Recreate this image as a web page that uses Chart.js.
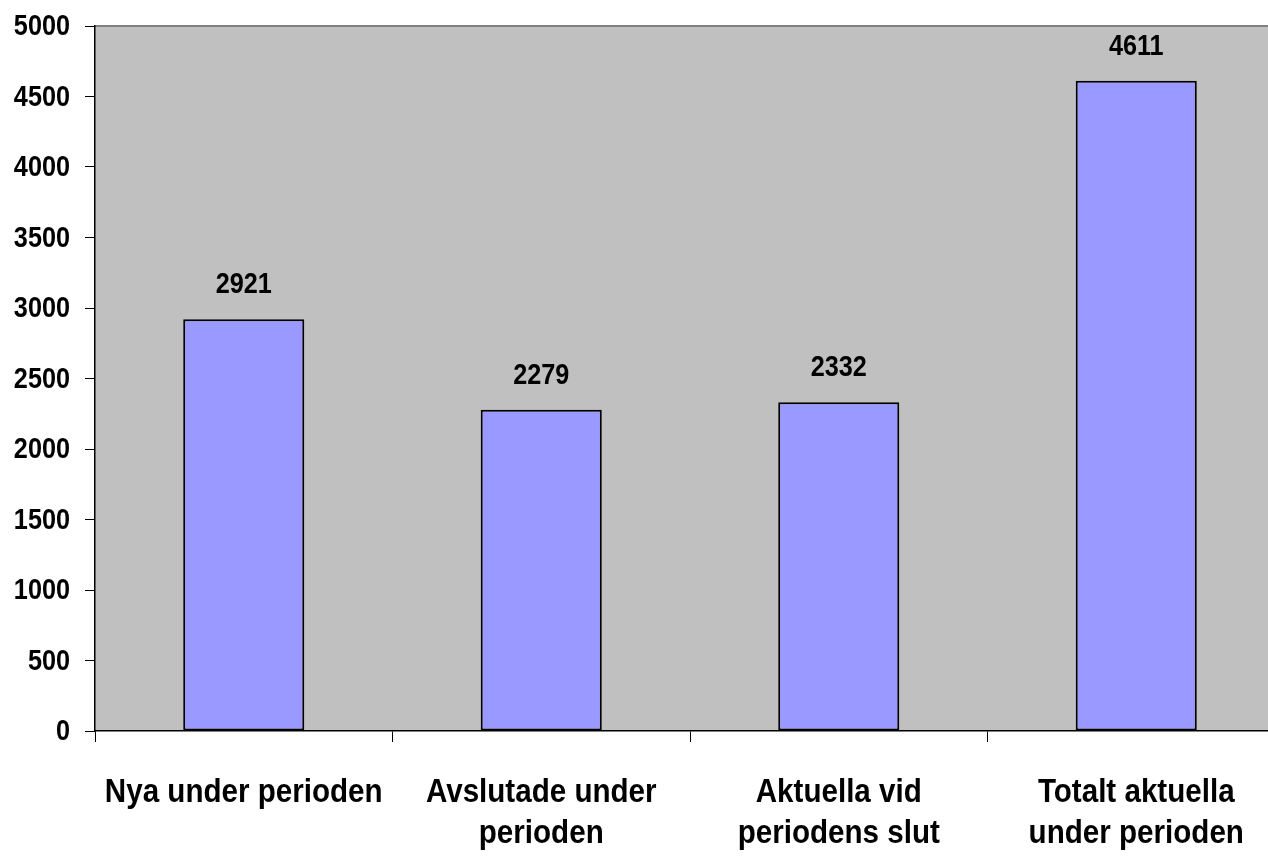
<!DOCTYPE html>
<html>
<head>
<meta charset="utf-8">
<script src="https://cdn.jsdelivr.net/npm/chart.js@4"></script>
<style>
  html, body { margin: 0; padding: 0; background: #fff; overflow: hidden; }
  #wrap { width: 1285px; height: 859px; position: relative; }
</style>
</head>
<body>
<div id="wrap"><canvas id="stapel"></canvas></div>
<script>
// data
const kategorier = [
  ['Nya under perioden'],
  ['Avslutade under', 'perioden'],
  ['Aktuella vid', 'periodens slut'],
  ['Totalt aktuella', 'under perioden']
];
const antal = [2921, 2279, 2332, 4611];
const yTicks = [0, 500, 1000, 1500, 2000, 2500, 3000, 3500, 4000, 4500, 5000];

const typsnitt = "'Liberation Sans Narrow', 'Arial Narrow', 'Liberation Sans', Arial, sans-serif";
const smal = 0.87; // squeeze text sideways, original uses a narrow face

// draw text narrowed around its anchor point
function smalText(ctx, txt, x, y) {
  ctx.save();
  ctx.translate(x, y);
  ctx.scale(smal, 1);
  ctx.fillText(txt, 0, 0);
  ctx.restore();
}

// grey plot area with a thin grey top line
const bakgrund = {
  id: 'bakgrund',
  beforeDraw(chart) {
    const { ctx, chartArea: a } = chart;
    ctx.save();
    ctx.fillStyle = '#C0C0C0';
    ctx.fillRect(a.left, a.top, a.right - a.left, a.bottom - a.top);
    ctx.strokeStyle = '#808080';
    ctx.lineWidth = 2;
    ctx.beginPath();
    ctx.moveTo(a.left, a.top);
    ctx.lineTo(a.right, a.top);
    ctx.stroke();
    ctx.restore();
  }
};

// axis labels and values above the bars
const texter = {
  id: 'texter',
  afterDraw(chart) {
    const ctx = chart.ctx;
    const xs = chart.scales.x;
    const ys = chart.scales.y;
    ctx.save();
    ctx.fillStyle = '#000';

    // y tick labels
    ctx.font = 'bold 29px ' + typsnitt;
    ctx.textAlign = 'right';
    ctx.textBaseline = 'middle';
    yTicks.forEach(function (v) {
      smalText(ctx, String(v), ys.left + ys.width - 25, ys.getPixelForValue(v) + 1);
    });

    // values
    ctx.textAlign = 'center';
    ctx.textBaseline = 'alphabetic';
    chart.getDatasetMeta(0).data.forEach(function (bar, i) {
      smalText(ctx, String(antal[i]), bar.x, bar.y - 26);
    });

    // category labels
    ctx.font = 'bold 34px ' + typsnitt;
    kategorier.forEach(function (rader, i) {
      const x = xs.getPixelForValue(i);
      rader.forEach(function (rad, j) {
        smalText(ctx, rad, x, xs.top + 71 + j * 41);
      });
    });
    ctx.restore();
  }
};

const config = {
  type: 'bar',
  data: {
    labels: kategorier,
    datasets: [{
      data: antal,
      backgroundColor: '#9999FF',
      borderColor: '#000000',
      borderWidth: 2,
      borderSkipped: false,
      categoryPercentage: 1,
      barPercentage: 0.407
    }]
  },
  options: {
    responsive: true,
    maintainAspectRatio: false,
    animation: false,
    layout: { padding: { top: 26, left: 0, right: 0, bottom: 0 } },
    plugins: {
      legend: { display: false },
      tooltip: { enabled: false }
    },
    scales: {
      x: {
        offset: true,
        grid: {
          offset: true,
          drawOnChartArea: false,
          drawTicks: true,
          tickLength: 11,
          color: '#000'
        },
        border: { color: '#000', width: 1.5 },
        ticks: { display: false },
        afterFit(axis) { axis.height = 128; }
      },
      y: {
        min: 0,
        max: 5000,
        afterBuildTicks(axis) { axis.ticks = yTicks.map(v => ({ value: v })); },
        grid: {
          drawOnChartArea: false,
          drawTicks: true,
          tickLength: 10,
          color: '#000'
        },
        border: { color: '#000', width: 1.5 },
        ticks: { display: false },
        afterFit(axis) { axis.width = 95; }
      }
    }
  },
  plugins: [bakgrund, texter]
};

const stapelChart = new Chart(document.getElementById('stapel'), config);
</script>
</body>
</html>
